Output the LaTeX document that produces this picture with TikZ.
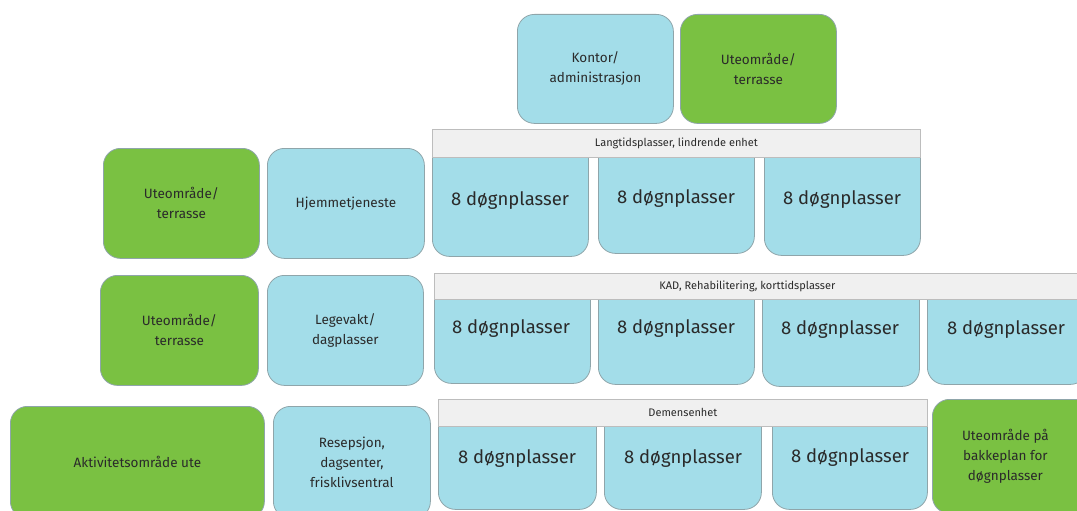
\documentclass[tikz,border=0pt]{standalone}
\usepackage{fontspec}
\setmainfont{Fira Sans}
\definecolor{bl}{HTML}{A3DDE9}
\definecolor{gr}{HTML}{7AC142}
\definecolor{bord}{HTML}{8FA5AA}
\definecolor{hfill}{HTML}{F0F0F0}
\definecolor{hbord}{HTML}{BDBDBD}
\definecolor{txt}{HTML}{2A2A2A}
\newcommand\lblfont{\fontsize{13.5}{20}\selectfont}
\newcommand\dgfont{\fontsize{18.5}{22}\selectfont}
\newcommand\hdrfont{\fontsize{11}{12}\selectfont}
\begin{document}
\begin{tikzpicture}[x=1pt,y=-1pt,
  box/.style={draw=bord, line width=0.8pt, rounded corners=17pt, anchor=north west, inner sep=0pt, align=center, text=txt, font=\lblfont},
  bbox/.style={box, fill=bl},
  gbox/.style={box, fill=gr},
  hdr/.style={draw=hbord, fill=hfill, line width=0.8pt, anchor=north west, inner sep=0pt, text=txt, font=\hdrfont},
  dtxt/.style={text=txt, font=\dgfont, inner sep=0pt}]
\useasboundingbox (0,0) rectangle (1077,511);
\clip (0,0) rectangle (1077,511);
% top row
\node[bbox, minimum width=156pt, minimum height=109pt] (kontor) at (517,14) {Kontor/\\administrasjon};
\node[gbox, minimum width=156pt, minimum height=109pt] (utetop) at (680,14) {Uteområde/\\terrasse};
% row 1
\node[gbox, minimum width=156pt, minimum height=110pt] (ute1) at (103,148) {Uteområde/\\terrasse};
\node[bbox, minimum width=157pt, minimum height=110pt] (hjem) at (267,148) {Hjemmetjeneste};
\node[bbox, minimum width=156pt, minimum height=127pt] (d11) at (432,129) {};
\node[bbox, minimum width=156pt, minimum height=124pt] (d12) at (598,129) {};
\node[bbox, minimum width=156pt, minimum height=126pt] (d13) at (764,129) {};
\node[hdr, minimum width=488pt, minimum height=28pt] (h1) at (432,129) {Langtidsplasser, lindrende enhet};
\node[dtxt] (t11) at (510,201) {8 døgnplasser};
\node[dtxt] (t12) at (676,199) {8 døgnplasser};
\node[dtxt] (t13) at (842,200) {8 døgnplasser};
% row 2
\node[gbox, minimum width=158pt, minimum height=110pt] (ute2) at (100,275) {Uteområde/\\terrasse};
\node[bbox, minimum width=156pt, minimum height=110pt] (lege) at (267,275) {Legevakt/\\dagplasser};
\node[bbox, minimum width=156pt, minimum height=110pt] (d21) at (434,273) {};
\node[bbox, minimum width=156pt, minimum height=111pt] (d22) at (598,273) {};
\node[bbox, minimum width=157pt, minimum height=113pt] (d23) at (762,273) {};
\node[bbox, minimum width=160pt, minimum height=111pt] (d24) at (927,273) {};
\node[hdr, minimum width=660pt, minimum height=26pt] (h2) at (434,273) {\hspace*{-34pt}KAD, Rehabilitering, korttidsplasser};
\node[dtxt] (t21) at (511,329) {8 døgnplasser};
\node[dtxt] (t22) at (676,329) {8 døgnplasser};
\node[dtxt] (t23) at (840,330) {8 døgnplasser};
\node[dtxt] (t24) at (1006,330) {8 døgnplasser};
% row 3
\node[gbox, minimum width=254pt, minimum height=112pt] (akt) at (10,406) {Aktivitetsområde ute};
\node[bbox, minimum width=157pt, minimum height=112pt] (resep) at (273,406) {Resepsjon,\\dagsenter,\\frisklivsentral};
\node[bbox, minimum width=158pt, minimum height=110pt] (d31) at (438,399) {};
\node[bbox, minimum width=157pt, minimum height=110pt] (d32) at (604,399) {};
\node[bbox, minimum width=155pt, minimum height=110pt] (d33) at (772,399) {};
\node[hdr, minimum width=489pt, minimum height=27pt] (h3) at (438,399) {Demensenhet};
\node[dtxt] (t31) at (517,459) {8 døgnplasser};
\node[dtxt] (t32) at (683,459) {8 døgnplasser};
\node[dtxt] (t33) at (850,458) {8 døgnplasser};
\node[gbox, minimum width=160pt, minimum height=114pt] (uteb) at (932,399) {\hspace*{-14pt}\begin{tabular}{@{}c@{}}Uteområde på\\bakkeplan for\\døgnplasser\end{tabular}};
\end{tikzpicture}
\end{document}
